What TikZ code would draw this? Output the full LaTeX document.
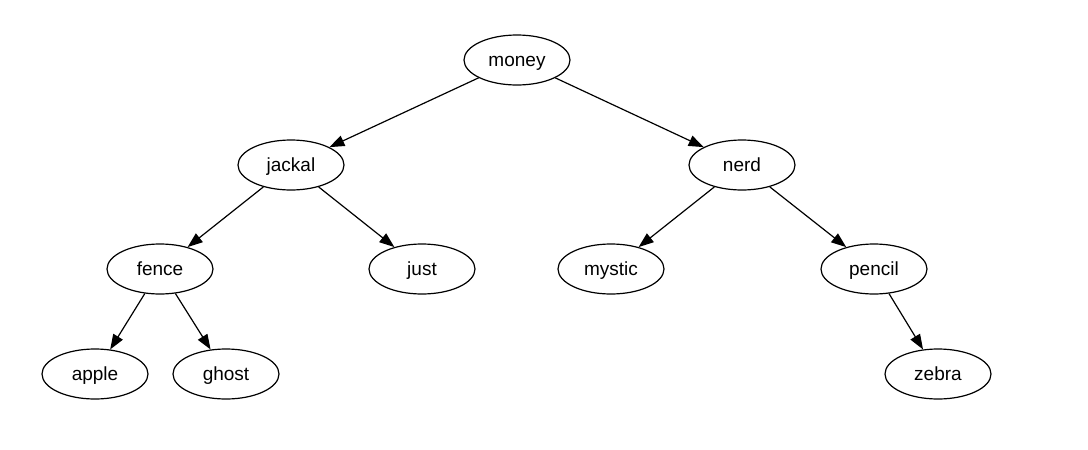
\documentclass[tikz,border=0pt]{standalone}
\usepackage{fontspec}
\setmainfont{Liberation Sans}
\usetikzlibrary{shapes.geometric,arrows.meta}
\begin{document}
\begin{tikzpicture}[x=1pt,y=-1pt,
  tnode/.style={ellipse,draw,line width=1.2pt,minimum width=106pt,minimum height=50pt,inner sep=0pt,text height=17pt,text depth=4pt,font=\fontsize{19}{22}\selectfont},
  tedge/.style={line width=1.2pt,-{Triangle[length=15pt,width=11pt]}}]
\useasboundingbox (0,0) rectangle (1088,450);
\node[tnode] (money) at (517,60) {money};
\node[tnode] (jackal) at (291,165) {jackal};
\node[tnode] (nerd) at (742,165) {nerd};
\node[tnode] (fence) at (160,269) {fence};
\node[tnode] (just) at (422,269) {just};
\node[tnode] (mystic) at (611,269) {mystic};
\node[tnode] (pencil) at (874,269) {pencil};
\node[tnode] (apple) at (95,374) {apple};
\node[tnode] (ghost) at (226,374) {ghost};
\node[tnode] (zebra) at (938,374) {zebra};
\draw[tedge] (money) -- (jackal);
\draw[tedge] (money) -- (nerd);
\draw[tedge] (jackal) -- (fence);
\draw[tedge] (jackal) -- (just);
\draw[tedge] (nerd) -- (mystic);
\draw[tedge] (nerd) -- (pencil);
\draw[tedge] (fence) -- (apple);
\draw[tedge] (fence) -- (ghost);
\draw[tedge] (pencil) -- (zebra);
\end{tikzpicture}
\end{document}
